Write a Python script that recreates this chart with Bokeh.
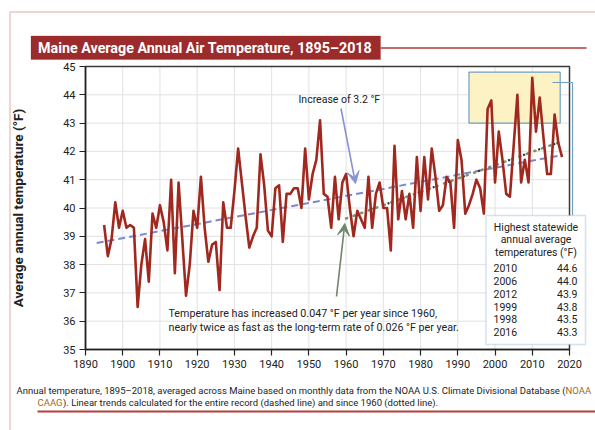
from bokeh.plotting import figure
from bokeh.models import (Range1d, FixedTicker, Label, LabelSet, ColumnDataSource,
                          Arrow, VeeHead, PolyAnnotation)
from bokeh.core.properties import value
from bokeh.embed import file_html
from bokeh.resources import INLINE

# ---------------- data ----------------
years = list(range(1895, 2019))
temps = [
    39.4, 38.3, 38.9, 40.2, 39.3,
    39.9, 39.3, 39.4, 39.3, 36.5, 38.0, 38.9, 37.4, 39.8, 39.3,
    40.1, 39.5, 38.5, 41.0, 37.7, 40.9, 38.9, 36.9, 38.0, 39.9,
    39.3, 41.1, 39.3, 38.1, 38.7, 38.8, 37.1, 40.2, 39.3, 39.3,
    40.6, 42.1, 40.9, 39.7, 38.6, 39.0, 39.3, 41.9, 40.8, 39.2,
    39.0, 40.7, 40.8, 38.8, 40.5, 40.5, 40.7, 40.7, 40.0, 42.1,
    40.3, 41.2, 41.7, 43.1, 40.5, 40.4, 39.3, 41.1, 39.6, 40.9,
    41.2, 40.0, 39.0, 39.9, 39.6, 39.3, 41.1, 39.3, 40.5, 40.9,
    40.0, 40.0, 38.5, 42.2, 39.6, 40.6, 39.6, 40.5, 39.3, 41.8,
    39.9, 41.8, 40.3, 42.1, 41.1, 39.9, 40.1, 41.1, 40.9, 39.3,
    42.4, 41.7, 39.8, 40.1, 40.5, 41.0, 40.7, 39.8, 43.5, 43.8,
    40.9, 42.7, 41.7, 40.5, 40.4, 42.2, 44.0, 40.9, 41.7, 40.9,
    44.6, 42.7, 43.9, 42.5, 41.2, 41.2, 43.3, 42.3, 41.8,
]
trend_all_years = [1893, 2018]
trend_all_temps = [38.76, 41.87]
trend_1960_years = [1960, 2018]
trend_1960_temps = [39.63, 42.36]
highlight_years = [1993, 2017.5]
highlight_temps = [43.0, 44.8]
record_years = ["2010", "2006", "2012", "1999", "1998", "2016"]
record_temps = ["44.6", "44.0", "43.9", "43.8", "43.5", "43.3"]
x_ticks = list(range(1890, 2021, 10))
y_ticks = list(range(35, 46))
x_bounds = (1890, 2020)
y_bounds = (35, 45)

TITLE = "Maine Average Annual Air Temperature, 1895\u20132018"
Y_LABEL = "Average annual temperature (\u00b0F)"
NOTE_TREND = "Increase of 3.2 \u00b0F"
NOTE_1 = "Temperature has increased 0.047 \u00b0F per year since 1960,"
NOTE_2 = "nearly twice as fast as the long-term rate of 0.026 \u00b0F per year."
TABLE_HEAD = ["Highest statewide", "annual average", "temperatures (\u00b0F)"]
CAP1 = ("Annual temperature, 1895\u20132018, averaged across Maine based on monthly data "
        "from the NOAA U.S. Climate Divisional Database (")
CAP1_LINK = "NOAA"
CAP2_LINK = "CAAG"
CAP2 = "). Linear trends calculated for the entire record (dashed line) and since 1960 (dotted line)."

# ---------------- geometry (page pixels -> data) ----------------
W, H = 595, 430
PX_L, PX_R, PY_T, PY_B = 85, 569, 66, 349
FONT = "Roboto"


def dx(px):
    return x_bounds[0] + (px - PX_L) * (x_bounds[1] - x_bounds[0]) / (PX_R - PX_L)


def dy(py):
    return y_bounds[1] - (py - PY_T) * (y_bounds[1] - y_bounds[0]) / (PY_B - PY_T)


RED = "#a0281e"
DARKRED = "#9c2b2b"
FRAME_RED = "#c0443c"
BLUE = "#7c88cc"
GREEN = "#7c9473"
STEEL = "#6fa0c2"
INK = "#222222"

p = figure(width=W, height=H, output_backend="svg", toolbar_location=None,
           x_range=Range1d(dx(0), dx(W)), y_range=Range1d(dy(H), dy(0)),
           min_border=0)
p.background_fill_color = "white"
p.border_fill_color = "white"
p.outline_line_color = None
p.grid.visible = False

p.xaxis.fixed_location = y_bounds[0]
p.yaxis.fixed_location = x_bounds[0]
p.xaxis.bounds = x_bounds
p.yaxis.bounds = y_bounds
for ax in (p.xaxis[0], p.yaxis[0]):
    ax.axis_line_color = INK
    ax.axis_line_width = 1.5
    ax.major_tick_line_color = INK
    ax.major_tick_line_width = 1.2
    ax.major_tick_in = 0
    ax.major_tick_out = 6
    ax.minor_tick_line_color = None
    ax.major_label_text_font = FONT
    ax.major_label_text_font_size = "11px"
    ax.major_label_text_color = INK
    ax.major_label_standoff = 4

p.xaxis.ticker = FixedTicker(ticks=x_ticks)
p.yaxis.ticker = FixedTicker(ticks=y_ticks)
p.yaxis.axis_label = Y_LABEL
p.yaxis.axis_label_text_font = FONT
p.yaxis.axis_label_text_font_style = "bold"
p.yaxis.axis_label_text_font_size = "13.6px"
p.yaxis.axis_label_text_color = INK
p.yaxis.axis_label_standoff = 34

# grid lines inside the chart area, at the tick positions
p.segment(x0=x_ticks, x1=x_ticks, y0=[y_bounds[0]] * len(x_ticks), y1=[y_bounds[1]] * len(x_ticks),
          line_color="#e2e2e2", line_width=1)
p.segment(x0=[x_bounds[0]] * len(y_ticks), x1=[x_bounds[1]] * len(y_ticks), y0=y_ticks, y1=y_ticks,
          line_color="#e2e2e2", line_width=1)

# highlight box behind the series
p.quad(left=[highlight_years[0]], right=[highlight_years[1]],
       bottom=[highlight_temps[0]], top=[highlight_temps[1]],
       fill_color="#fdf2c4", line_color=STEEL, line_width=1.2)

# trends
p.line(trend_all_years, trend_all_temps, line_color=BLUE, line_width=2, line_dash="7 4")
p.line(trend_1960_years, trend_1960_temps, line_color=GREEN, line_width=2.6,
       line_dash="1 7", line_cap="round")
p.line(trend_1960_years, trend_1960_temps, line_color="#333333", line_width=2.2,
       line_dash="2 14", line_dash_offset=4)

# series
p.line(years, temps, line_color=RED, line_width=2.6, line_join="round")

# chart frame: top and right edges
p.quad(left=[x_bounds[0]], right=[x_bounds[1]], bottom=[y_bounds[0]], top=[y_bounds[1]],
       fill_color=None, line_color="#3a3a3a", line_width=1.5)

# ---------- decorations ----------
p.add_layout(PolyAnnotation(xs=[dx(9.5), dx(640), dx(640), dx(9.5)],
                            ys=[dy(11.5), dy(11.5), dy(470), dy(470)],
                            fill_color=None, line_color=FRAME_RED, line_width=1.5))
p.add_layout(PolyAnnotation(xs=[dx(30.5), dx(380), dx(380), dx(30.5)],
                            ys=[dy(35.5), dy(35.5), dy(59), dy(59)],
                            fill_color=DARKRED, fill_alpha=1, line_color=DARKRED))
p.add_layout(Arrow(end=None, x_start=dx(380), y_start=dy(47.5), x_end=dx(586), y_end=dy(47.5),
                   line_color="#b33a3a", line_width=1.5))
p.add_layout(Label(x=dx(37.5), y=dy(47.5), text=TITLE, text_color="white",
                   text_font=FONT, text_font_style="bold", text_font_size="14.3px",
                   text_baseline="middle", text_align="left"))

# notes and arrows
p.add_layout(Label(x=dx(298), y=dy(98.5), text=NOTE_TREND, text_color=INK,
                   text_font=FONT, text_font_size="10.5px", text_baseline="middle"))
p.add_layout(Arrow(end=VeeHead(size=12, fill_color="#8a93d2", line_color="#8a93d2"),
                   x_start=dx(340.5), y_start=dy(108), x_end=dx(355), y_end=dy(183),
                   line_color="#8a93d2", line_width=1.6))
p.add_layout(Label(x=dx(168), y=dy(312.5), text=NOTE_1, text_color=INK,
                   text_font=FONT, text_font_size="10.7px", text_baseline="middle"))
p.add_layout(Label(x=dx(168), y=dy(327), text=NOTE_2, text_color=INK,
                   text_font=FONT, text_font_size="10.7px", text_baseline="middle"))
p.add_layout(Arrow(end=VeeHead(size=12, fill_color="#6f866a", line_color="#6f866a"),
                   x_start=dx(336), y_start=dy(296), x_end=dx(344.3), y_end=dy(223),
                   line_color="#6f866a", line_width=1.6))

# connector from highlight box to table
p.add_layout(Arrow(end=None, x_start=dx(552), y_start=dy(82), x_end=dx(572), y_end=dy(82),
                   line_color=STEEL, line_width=1.2))
p.add_layout(Arrow(end=None, x_start=dx(572), y_start=dy(82), x_end=dx(572), y_end=dy(215),
                   line_color=STEEL, line_width=1.2))

# table
p.add_layout(PolyAnnotation(xs=[dx(485.5), dx(585), dx(585), dx(485.5)],
                            ys=[dy(215), dy(215), dy(344), dy(344)],
                            fill_color="white", fill_alpha=1, line_color=STEEL, line_width=1.5))
for i, t in enumerate(TABLE_HEAD):
    p.add_layout(Label(x=dx(535.5), y=dy(226.5 + 12.6 * i), text=t, text_color=INK,
                       text_font=FONT, text_font_size="10.5px", text_baseline="middle",
                       text_align="center"))
row_y = [dy(267.7 + 12.8 * i) for i in range(len(record_years))]
src = ColumnDataSource(dict(yr=record_years, tv=record_temps, y=row_y,
                            xl=[dx(493)] * len(record_years), xr=[dx(577)] * len(record_years)))
p.add_layout(LabelSet(x="xl", y="y", text="yr", source=src, text_font=value(FONT),
                      text_font_size=value("10.5px"), text_color=INK,
                      text_baseline="middle", text_align="left"))
p.add_layout(LabelSet(x="xr", y="y", text="tv", source=src, text_font=value(FONT),
                      text_font_size=value("10.5px"), text_color=INK,
                      text_baseline="middle", text_align="right"))

# caption
LINK = "#a0682a"
CAP_SIZE = "9.5px"
p.add_layout(Label(x=dx(565), y=dy(389.5), text=CAP1, text_color=INK,
                   text_font=FONT, text_font_size=CAP_SIZE, text_baseline="middle",
                   text_align="right"))
p.add_layout(Label(x=dx(565), y=dy(389.5), text=CAP1_LINK, text_color=LINK,
                   text_font=FONT, text_font_size=CAP_SIZE, text_baseline="middle",
                   text_align="left"))
p.add_layout(Label(x=dx(37), y=dy(401.5), text=CAP2_LINK, text_color=LINK,
                   text_font=FONT, text_font_size=CAP_SIZE, text_baseline="middle",
                   text_align="left"))
p.add_layout(Label(x=dx(62.5), y=dy(401.5), text=CAP2, text_color=INK,
                   text_font=FONT, text_font_size=CAP_SIZE, text_baseline="middle",
                   text_align="left"))
p.add_layout(Arrow(end=None, x_start=dx(37), y_start=dy(411), x_end=dx(640), y_end=dy(411),
                   line_color="#b5403a", line_width=2))

open("out.html", "w").write(file_html(p, INLINE))
